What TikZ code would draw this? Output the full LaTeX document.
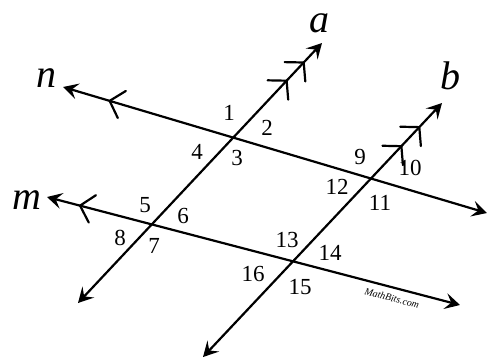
\documentclass[tikz,border=0pt]{standalone}
\usepackage{fontspec}
\setmainfont{Liberation Serif}
\usetikzlibrary{arrows.meta,calc}
\tikzset{
  ln/.style={line width=2.2pt, {Stealth[length=15pt,width=16pt,inset=6pt]}-{Stealth[length=15pt,width=16pt,inset=6pt]}},
  chevline/.style={line width=2.2pt, line cap=round, line join=round},
  num/.style={font=\fontsize{23}{25}\selectfont, inner sep=0pt},
  lbl/.style={font=\fontsize{40}{42}\selectfont\itshape, inner sep=0pt}
}
\begin{document}
\begin{tikzpicture}[x=1pt,y=-1pt]
\useasboundingbox (0,0) rectangle (489,360);
\coordinate (N1) at (63,87);
\coordinate (N2) at (487,213);
\coordinate (M1) at (47,197);
\coordinate (M2) at (460,305);
\coordinate (A1) at (78,303);
\coordinate (A2) at (322,43);
\coordinate (B1) at (203,357);
\coordinate (B2) at (442,103);
\draw[ln] (N1) -- (N2);
\draw[ln] (M1) -- (M2);
\draw[ln] (A1) -- (A2);
\draw[ln] (B1) -- (B2);
% parallel marks
\coordinate (pn) at ($(N1)!0.11!(N2)$);
\coordinate (pm) at ($(M1)!0.08!(M2)$);
\coordinate (pa1) at ($(A1)!0.855!(A2)$);
\coordinate (pa2) at ($(A1)!0.925!(A2)$);
\coordinate (pb1) at ($(B1)!0.83!(B2)$);
\coordinate (pb2) at ($(B1)!0.905!(B2)$);
\draw[chevline] ($(pn)!19pt!48:(N2)$) -- (pn) -- ($(pn)!19pt!-48:(N2)$);
\draw[chevline] ($(pm)!19pt!48:(M2)$) -- (pm) -- ($(pm)!19pt!-48:(M2)$);
\draw[chevline] ($(pa1)!19pt!48:(A1)$) -- (pa1) -- ($(pa1)!19pt!-48:(A1)$);
\draw[chevline] ($(pa2)!19pt!48:(A1)$) -- (pa2) -- ($(pa2)!19pt!-48:(A1)$);
\draw[chevline] ($(pb1)!19pt!48:(B1)$) -- (pb1) -- ($(pb1)!19pt!-48:(B1)$);
\draw[chevline] ($(pb2)!19pt!48:(B1)$) -- (pb2) -- ($(pb2)!19pt!-48:(B1)$);
\node[lbl] (la) at (319,23) {a};
\node[lbl] (lb) at (450,76) {b};
\node[lbl] (ln) at (46,78) {n};
\node[lbl] (lm) at (27,200) {m};
\node[num] (n1) at (229,113) {1};
\node[num] (n2) at (267,128) {2};
\node[num] (n3) at (237,158) {3};
\node[num] (n4) at (197,152) {4};
\node[num] (n5) at (145,205) {5};
\node[num] (n6) at (183,216) {6};
\node[num] (n7) at (154,246) {7};
\node[num] (n8) at (120,238) {8};
\node[num] (n9) at (360,157) {9};
\node[num] (n10) at (410,168) {10};
\node[num] (n11) at (380,203) {11};
\node[num] (n12) at (337,187) {12};
\node[num] (n13) at (287,240) {13};
\node[num] (n14) at (330,253) {14};
\node[num] (n15) at (300,287) {15};
\node[num] (n16) at (253,274) {16};
\node[font=\fontsize{10}{11}\selectfont\itshape, rotate=-14.6, inner sep=0pt] (wm) at (392,298) {MathBits.com};
\end{tikzpicture}
\end{document}
